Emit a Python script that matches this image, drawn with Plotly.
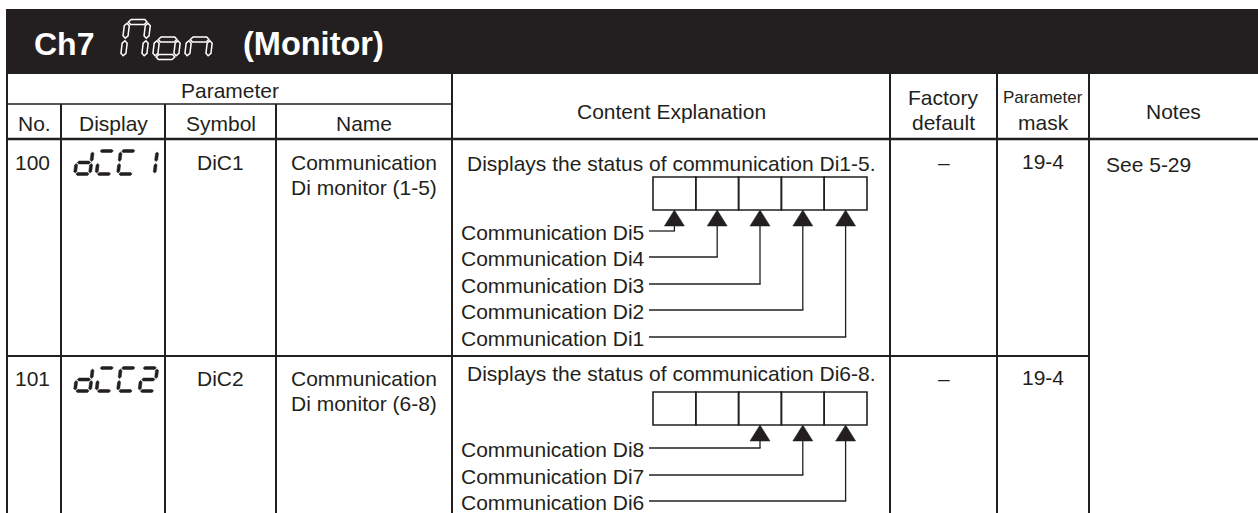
import plotly.graph_objects as go

# ---------------- data ----------------
title_prefix = "Ch7"
title_code = "Mon"
title_suffix = "(Monitor)"
header_group = "Parameter"
header_cols = ["No.", "Display", "Symbol", "Name"]
header_content = "Content Explanation"
header_factory = ["Factory", "default"]
header_mask = ["Parameter", "mask"]
header_notes = "Notes"

param_no = ["100", "101"]
display_code = ["diC1", "diC2"]
symbols = ["DiC1", "DiC2"]
names = [["Communication", "Di monitor (1-5)"], ["Communication", "Di monitor (6-8)"]]
explanations = ["Displays the status of communication Di1-5.",
                "Displays the status of communication Di6-8."]
factory_default = ["\u2013", "\u2013"]
param_mask = ["19-4", "19-4"]
notes = "See 5-29"
bit_labels = [["Communication Di5", "Communication Di4", "Communication Di3",
               "Communication Di2", "Communication Di1"],
              ["Communication Di8", "Communication Di7", "Communication Di6"]]
bit_box = [[1, 2, 3, 4, 5], [3, 4, 5]]   # box (1..5) each label's arrow points to
n_boxes = 5

# seven-segment character table
SEG = {"M": "abcef", "o": "cdeg", "n": "ceg", "d": "bcdeg", "i": "ade",
       "C": "adef", "1": "bc", "2": "abdeg"}

# ---------------- layout constants ----------------
W, H = 1258, 513
INK = "#231f20"
FONT = "Liberation Sans, Arial, Helvetica, sans-serif"
FS = 21
COLS = [7, 61, 165, 276, 452, 890, 997, 1089, 1258]
TITLE_TOP, TITLE_BOT = 9, 74
GROUP_LINE, HEAD_BOT = 104, 139
ROW_TOP = [139, 356]
ROW_TEXT_Y = [162, 378]
ROW_EXPL_Y = [163, 373]
BOX_TOP = [177, 392]
BOX_H = 33
BOX_X0, BOX_X1 = 653, 867
TRI_H, TRI_W = 16, 20
LINE_END_X = 649
LABEL_X = 459
LABEL_Y = [[231, 257, 284, 310, 337], [448, 475, 501]]

shapes = []
annotations = []


def line(x0, y0, x1, y1, w=2.0, color=INK):
    shapes.append(dict(type="line", x0=x0, y0=y0, x1=x1, y1=y1, xref="x", yref="y",
                       line=dict(color=color, width=w)))


def text(s, x, y, anchor="center", size=FS, color=INK, family=FONT, bold=False):
    annotations.append(dict(text=("<b>%s</b>" % s) if bold else s, x=x, y=y, xref="x", yref="y",
                            xanchor=anchor, yanchor="middle", showarrow=False,
                            font=dict(size=size, color=color, family=family)))


def seven_seg(ch, x0, ybot, w, h, t, gap, slant, fill, stroke, sw):
    ends = {"a": ((0, 1), (1, 1)), "b": ((1, 1), (1, .5)), "c": ((1, .5), (1, 0)),
            "d": ((0, 0), (1, 0)), "e": ((0, .5), (0, 0)), "f": ((0, 1), (0, .5)),
            "g": ((0, .5), (1, .5))}
    for s in SEG[ch]:
        (u0, v0), (u1, v1) = ends[s]
        X0, Y0, X1, Y1 = u0 * w, v0 * h, u1 * w, v1 * h
        if Y0 == Y1:
            xa, xb = min(X0, X1) + gap, max(X0, X1) - gap
            pts = [(xa, Y0), (xa + t / 2, Y0 + t / 2), (xb - t / 2, Y0 + t / 2), (xb, Y0),
                   (xb - t / 2, Y0 - t / 2), (xa + t / 2, Y0 - t / 2)]
        else:
            ya, yb = min(Y0, Y1) + gap, max(Y0, Y1) - gap
            pts = [(X0, ya), (X0 + t / 2, ya + t / 2), (X0 + t / 2, yb - t / 2), (X0, yb),
                   (X0 - t / 2, yb - t / 2), (X0 - t / 2, ya + t / 2)]
        path = "M " + " L ".join("%.2f,%.2f" % (x0 + px + py * slant, ybot - py) for px, py in pts) + " Z"
        shapes.append(dict(type="path", path=path, xref="x", yref="y", fillcolor=fill,
                           line=dict(color=stroke, width=sw)))


# ---------------- title bar ----------------
shapes.append(dict(type="rect", x0=6, y0=TITLE_TOP, x1=W, y1=TITLE_BOT, xref="x", yref="y",
                   fillcolor=INK, line=dict(width=0)))
text(title_prefix, 32, 44, anchor="left", size=32, color="white", bold=True)
for k, ch in enumerate(title_code):
    seven_seg(ch, 123 + 32 * k, 57, 21, 35, 5.0, 1.2, 0.12, INK, "white", 1.5)
text(title_suffix, 241, 44, anchor="left", size=32.5, color="white", bold=True)

# ---------------- grid ----------------
line(COLS[0], TITLE_BOT, COLS[0], H)
for x in COLS[1:4]:
    line(x, GROUP_LINE, x, H)
for x in COLS[4:8]:
    line(x, TITLE_BOT, x, H)
line(COLS[0], GROUP_LINE, COLS[4], GROUP_LINE, 1.6)
line(COLS[0], HEAD_BOT, W, HEAD_BOT, 2.6)
line(COLS[0], ROW_TOP[1], COLS[7], ROW_TOP[1], 2.0)

# ---------------- header text ----------------
text(header_group, (COLS[0] + COLS[4]) / 2, 90)
for i, h in enumerate(header_cols):
    text(h, (COLS[i] + COLS[i + 1]) / 2, 123)
text(header_content, (COLS[4] + COLS[5]) / 2, 111)
text(header_factory[0], (COLS[5] + COLS[6]) / 2, 97)
text(header_factory[1], (COLS[5] + COLS[6]) / 2, 122)
text(header_mask[0], (COLS[6] + COLS[7]) / 2, 97, size=17)
text(header_mask[1], (COLS[6] + COLS[7]) / 2, 122)
text(header_notes, (COLS[7] + COLS[8]) / 2, 111)

# ---------------- rows ----------------
box_w = (BOX_X1 - BOX_X0) / n_boxes
for r in range(2):
    ty = ROW_TEXT_Y[r]
    text(param_no[r], 13, ty, anchor="left")
    for k, ch in enumerate(display_code[r]):
        seven_seg(ch, 75 + 21.5 * k, ROW_TOP[r] + 35, 15, 23, 3.0, 0.9, 0.12, INK, INK, 0.5)
    text(symbols[r], (COLS[2] + COLS[3]) / 2, ty)
    text(names[r][0], (COLS[3] + COLS[4]) / 2, ty)
    text(names[r][1], (COLS[3] + COLS[4]) / 2, ty + 25)
    text(explanations[r], 465, ROW_EXPL_Y[r], anchor="left")
    text(factory_default[r], (COLS[5] + COLS[6]) / 2, ty)
    text(param_mask[r], (COLS[6] + COLS[7]) / 2, ty - 1)

    # bit boxes
    bt = BOX_TOP[r]
    for b in range(n_boxes):
        shapes.append(dict(type="rect", x0=BOX_X0 + b * box_w, x1=BOX_X0 + (b + 1) * box_w,
                           y0=bt, y1=bt + BOX_H, xref="x", yref="y",
                           line=dict(color=INK, width=1.6), fillcolor="rgba(0,0,0,0)"))
    # arrows + leader lines
    for lab, bx, ly in zip(bit_labels[r], bit_box[r], LABEL_Y[r]):
        cx = BOX_X0 + (bx - 0.5) * box_w
        tip = bt + BOX_H
        base = tip + TRI_H
        shapes.append(dict(type="path", xref="x", yref="y",
                           path="M %.2f,%.2f L %.2f,%.2f L %.2f,%.2f Z" % (cx, tip, cx - TRI_W / 2, base, cx + TRI_W / 2, base),
                           fillcolor=INK, line=dict(color=INK, width=0.5)))
        line(cx, base, cx, ly, 1.3)
        line(LINE_END_X, ly, cx + 0.6, ly, 1.3)
        text(lab, LABEL_X, ly + 1, anchor="left")

text(notes, 1104, 164, anchor="left")

fig = go.Figure()
fig.update_layout(width=W, height=H, margin=dict(l=0, r=0, t=0, b=0),
                  paper_bgcolor="white", plot_bgcolor="white",
                  xaxis=dict(range=[0, W], visible=False, fixedrange=True),
                  yaxis=dict(range=[H, 0], visible=False, fixedrange=True),
                  shapes=shapes, annotations=annotations, showlegend=False)
fig.write_html("out.html", config={"displayModeBar": False},
               post_script="document.body.style.margin='0';document.body.style.overflow='hidden';")
